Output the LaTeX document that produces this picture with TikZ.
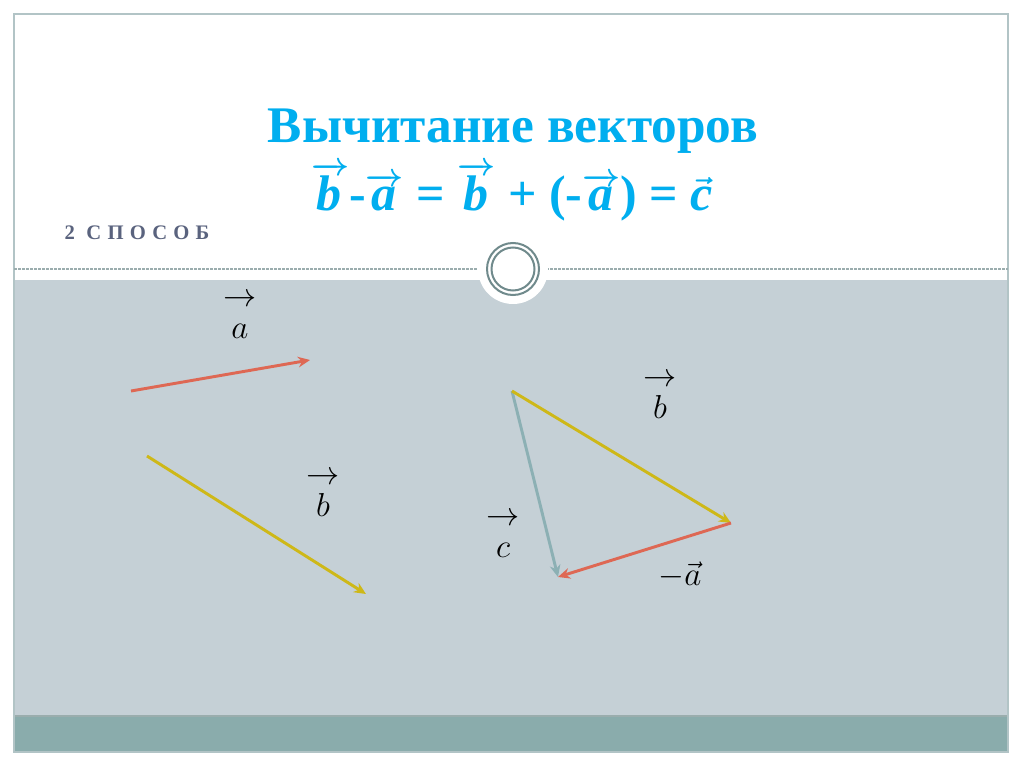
\documentclass[tikz,border=0pt]{standalone}
\usepackage{amsmath}
\usepackage{fontspec}
\setmainfont{Liberation Serif}
\usetikzlibrary{arrows.meta}
\usetikzlibrary{calc,positioning}

\definecolor{titleblue}{RGB}{0,174,239}
\definecolor{subgray}{RGB}{90,99,126}
\definecolor{panelgray}{RGB}{197,208,214}
\definecolor{barteal}{RGB}{138,172,172}
\definecolor{framegray}{RGB}{178,196,198}
\definecolor{ringgray}{RGB}{112,138,140}
\definecolor{vecred}{RGB}{222,104,84}
\definecolor{vecyellow}{RGB}{206,184,24}
\definecolor{vecteal}{RGB}{140,176,180}

\newcommand{\bv}[1]{$\overrightarrow{\text{\bfseries\itshape #1\kern1pt}}$}

\begin{document}
\begin{tikzpicture}[x=0.75pt,y=-0.75pt]
    \def\frameL{14}
    \def\frameR{1008}
    \def\frameT{14}
    \def\frameB{752}

    \tikzstyle{vec}=[line width=2.2pt,-{Stealth[length=9pt,width=8pt]}]
    \tikzstyle{vlabel}=[align=center,inner sep=0pt,font=\fontsize{25}{24}\selectfont]

    \useasboundingbox (0,0) rectangle (1024,767);

    % Slide
    \fill[white] (0,0) rectangle (1024,767);
    \fill[panelgray] (\frameL,280) rectangle (\frameR,716);
    \fill[barteal] (\frameL,716) rectangle (\frameR,\frameB);
    \draw[barteal!80!black!70, line width=0.8pt] (\frameL,716) -- (\frameR,716);
    \draw[framegray, line width=1.3pt] (\frameL,\frameT) rectangle (\frameR,\frameB);
    \draw[ringgray!70, dashed, line width=0.8pt, dash pattern=on 2pt off 1pt] (\frameL,269) -- (\frameR,269);

    % Ring
    \fill[white] (513,269) circle (35);
    \draw[ringgray, line width=1.5pt] (513,269) circle (26);
    \draw[ringgray, line width=1.5pt] (513,269) circle (21.5);

    % Titles
    \node[text=titleblue, inner sep=0pt, font=\fontsize{38.5}{40}\selectfont\bfseries] (title) at (513,131) {Вычитание векторов};
    \node[text=titleblue, inner sep=0pt, anchor=base, font=\fontsize{37.5}{40}\selectfont\bfseries\boldmath] (formula) at (512,210)
    {\bv{b}-\bv{a} = \bv{b} + (-\bv{a}) = $\vec{\text{\bfseries\itshape c}}$};
    \node[text=subgray, font=\fontsize{15.5}{16}\selectfont\bfseries\addfontfeature{LetterSpace=30}, anchor=west] (method) at (60,233) {2 СПОСОБ};

    % Vectors
    \coordinate (A1) at (131,391);
    \coordinate (A2) at (310,360);
    \coordinate (B1) at (147,456);
    \coordinate (B2) at (366,594);
    \coordinate (P) at (512,391);
    \coordinate (Q) at (731,523);
    \coordinate (R) at (558,577);

    \draw[vec, vecred] (A1) -- (A2);
    \draw[vec, vecyellow] (B1) -- (B2);
    \draw[vec, vecteal] (P) -- (R);
    \draw[vec, vecyellow] (P) -- (Q);
    \draw[vec, vecred] (Q) -- (R);

    % Labels
    \node[vlabel] (la) at (240,316) {$\rightarrow$\\$a$};
    \node[vlabel] (lb) at (323,494) {$\rightarrow$\\$b$};
    \node[vlabel] (lb2) at (660,396) {$\rightarrow$\\$b$};
    \node[vlabel] (lc) at (503,535) {$\rightarrow$\\$c$};
    \node[vlabel, font=\fontsize{30}{30}\selectfont] (lma) at (680,575) {$-\vec{a}$};
\end{tikzpicture}
\end{document}
